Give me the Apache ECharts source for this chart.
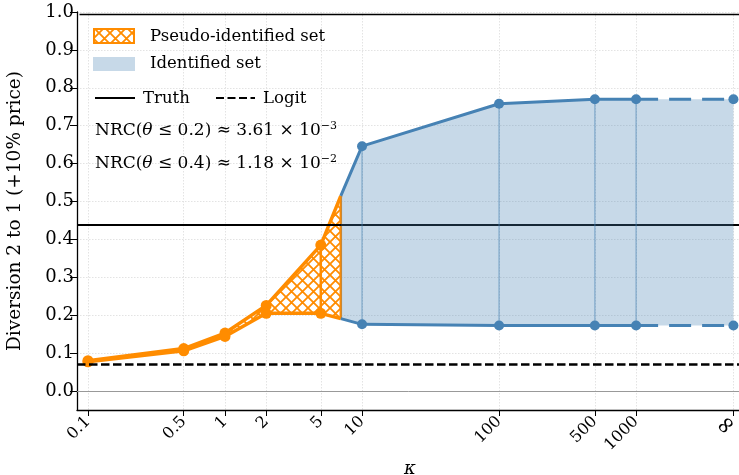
<!DOCTYPE html>
<html>
<head>
<meta charset="utf-8">
<script src="https://cdn.jsdelivr.net/npm/echarts@6/dist/echarts.min.js"></script>
<style>
  html, body { margin: 0; padding: 0; background: #fff; }
  #chart { width: 739px; height: 475px; }
</style>
</head>
<body>
<div id="chart"></div>
<script>
// kappa ticks; the infinity tick is drawn at about 10^3.71
const kappaLabels = ['0.1', '0.5', '1', '2', '5', '10', '100', '500', '1000', '\u221e'];
const kappaPos = [0.1, 0.5, 1, 2, 5, 10, 100, 500, 1000, 5130];
const yTicks = [0, 0.1, 0.2, 0.3, 0.4, 0.5, 0.6, 0.7, 0.8, 0.9, 1.0];

// pseudo-identified set (orange)
const pseudoKappa = [0.1, 0.5, 1, 2, 5, 7];
const pseudoUpper = [0.080, 0.112, 0.153, 0.226, 0.385, 0.515];
const pseudoLower = [0.077, 0.106, 0.144, 0.205, 0.205, 0.191];

// identified set (blue)
const idKappa = [7, 10, 100, 500, 1000, 5130];
const idUpper = [0.515, 0.646, 0.758, 0.770, 0.770, 0.770];
const idLower = [0.191, 0.176, 0.173, 0.173, 0.173, 0.173];

const truth = 0.439;
const logit = 0.075;

const ORANGE = '#ff8c00';
const BLUE = '#4682b4';
const FONT = 'DejaVu Serif';

const lx = k => Math.log10(k);

// crosshatch pattern for the pseudo-identified set
function hatch() {
    const s = 11;
    const c = document.createElement('canvas');
    c.width = s; c.height = s;
    const g = c.getContext('2d');
    g.strokeStyle = ORANGE;
    g.lineWidth = 1.8;
    g.beginPath();
    g.moveTo(-1, -1); g.lineTo(s + 1, s + 1);
    g.moveTo(-1, s + 1); g.lineTo(s + 1, -1);
    g.stroke();
    return c;
}
const hatchPattern = { image: hatch(), repeat: 'repeat' };

function band(kap, lo, hi, fill) {
    return function (params, api) {
        if (params.dataIndex !== 0) return null;
        const pts = [];
        for (let i = 0; i < kap.length; i++) pts.push(api.coord([lx(kap[i]), hi[i]]));
        for (let i = kap.length - 1; i >= 0; i--) pts.push(api.coord([lx(kap[i]), lo[i]]));
        return { type: 'polygon', shape: { points: pts }, style: { fill: fill } };
    };
}

function vlines(color, width) {
    return function (params, api) {
        const p1 = api.coord([api.value(0), api.value(1)]);
        const p2 = api.coord([api.value(0), api.value(2)]);
        return {
            type: 'line',
            shape: { x1: p1[0], y1: p1[1], x2: p2[0], y2: p2[1] },
            style: { stroke: color, lineWidth: width }
        };
    };
}

const lastNoSymbol = (kap, arr) => kap.map((k, i) => {
    const d = { value: [lx(k), arr[i]] };
    if (i === kap.length - 1) d.symbol = 'none';
    return d;
});
const n = idKappa.length;
const idSolid = arr => idKappa.slice(0, n - 1).map((k, i) => {
    const d = { value: [lx(k), arr[i]] };
    if (i === 0) d.symbol = 'none';
    return d;
});
const idDash = arr => [
    { value: [lx(idKappa[n - 2]), arr[n - 2]], symbol: 'none' },
    { value: [lx(idKappa[n - 1]), arr[n - 1]] }
];

const chart = echarts.init(document.getElementById('chart'));

const txt = (text, x, y, size) => ({
    type: 'text', x: x, y: y, z: 100,
    style: { text: text, font: size + 'px "' + FONT + '"', fill: '#000', verticalAlign: 'middle' }
});
const nrc = (text, y) => ({
    type: 'text', x: 95, y: y, z: 100,
    style: {
        text: text, font: '17px "' + FONT + '"', fill: '#000', verticalAlign: 'middle',
        rich: {
            i: { fontFamily: FONT, fontSize: 17, fontStyle: 'italic' },
            s: { fontFamily: FONT, fontSize: 11, verticalAlign: 'top', padding: [0, 0, 9, 0] }
        }
    }
});

const option = {
    animation: false,
    grid: { left: 77, right: -4, top: 12, bottom: 65, outerBoundsMode: 'none', containLabel: false },
    xAxis: {
        type: 'value',
        min: -1.08,
        max: 3.78,
        name: '\u03ba',
        nameLocation: 'middle',
        nameGap: 49,
        nameTextStyle: { fontFamily: FONT, fontStyle: 'italic', fontSize: 18, color: '#000' },
        axisLine: { show: true, onZero: false, lineStyle: { color: '#000', width: 1.3 } },
        axisTick: { show: true, length: 6, customValues: kappaPos.map(lx), lineStyle: { color: '#000', width: 1 } },
        axisLabel: {
            customValues: kappaPos.map(lx),
            rotate: 45,
            margin: 9,
            fontFamily: FONT,
            fontSize: 16,
            color: '#000',
            rich: { inf: { fontFamily: FONT, fontSize: 24 } },
            formatter: v => {
                let best = 0;
                kappaPos.forEach((k, i) => {
                    if (Math.abs(lx(k) - v) < Math.abs(lx(kappaPos[best]) - v)) best = i;
                });
                return best === kappaPos.length - 1 ? '{inf|' + kappaLabels[best] + '}' : kappaLabels[best];
            }
        },
        splitLine: { show: true, lineStyle: { color: '#dcdcdc', type: [1.5, 1.5], width: 0.8 } }
    },
    yAxis: {
        type: 'value',
        min: -0.05,
        max: 1.0,
        name: 'Diversion 2 to 1 (+10% price)',
        nameLocation: 'middle',
        nameGap: 52,
        nameTextStyle: { fontFamily: FONT, fontSize: 18.5, color: '#000' },
        axisLine: { show: true, onZero: false, lineStyle: { color: '#000', width: 1.3 } },
        axisTick: { show: true, length: 7, customValues: yTicks, lineStyle: { color: '#000', width: 1 } },
        axisLabel: {
            customValues: yTicks,
            margin: 3,
            fontFamily: FONT,
            fontSize: 18,
            color: '#000',
            formatter: v => v.toFixed(1)
        },
        splitLine: { show: true, lineStyle: { color: '#dcdcdc', type: [1.5, 1.5], width: 0.8 } }
    },
    graphic: [
        // top spine
        { type: 'line', left: 77, top: 12, shape: { x1: 0, y1: 0, x2: 662, y2: 0 }, style: { stroke: '#000', lineWidth: 1.3 }, z: 100 },
        // legend
        { type: 'rect', shape: { x: 94, y: 29, width: 40, height: 14 }, style: { fill: hatchPattern, stroke: ORANGE, lineWidth: 2 }, z: 100 },
        txt('Pseudo-identified set', 150, 37, 16.5),
        { type: 'rect', shape: { x: 93, y: 57, width: 42, height: 14 }, style: { fill: 'rgba(70,130,180,0.3)' }, z: 100 },
        txt('Identified set', 150, 64, 16.5),
        { type: 'line', shape: { x1: 95, y1: 98, x2: 135, y2: 98 }, style: { stroke: '#000', lineWidth: 2.2 }, z: 100 },
        txt('Truth', 143, 99, 16.5),
        { type: 'line', shape: { x1: 216, y1: 98, x2: 255, y2: 98 }, style: { stroke: '#000', lineWidth: 2.2, lineDash: [8, 3.5] }, z: 100 },
        txt('Logit', 263, 99, 16.5),
        nrc('NRC({i|\u03b8} \u2264 0.2) \u2248 3.61 \u00d7 10{s|\u22123}', 131),
        nrc('NRC({i|\u03b8} \u2264 0.4) \u2248 1.18 \u00d7 10{s|\u22122}', 164)
    ],
    series: [
        {
            type: 'line', data: [], z: 1,
            markLine: {
                silent: true, symbol: 'none', label: { show: false },
                data: [
                    { yAxis: 0, lineStyle: { color: '#999', width: 1, type: 'solid' } },
                    { yAxis: logit, lineStyle: { color: '#000', width: 2.5, type: [8.5, 3.5] } }
                ]
            }
        },
        {
            type: 'custom', z: 2,
            data: pseudoKappa.map((k, i) => [lx(k), pseudoLower[i], pseudoUpper[i]]),
            renderItem: band(pseudoKappa, pseudoLower, pseudoUpper, hatchPattern)
        },
        {
            type: 'custom', z: 3,
            data: pseudoKappa.map((k, i) => [lx(k), pseudoLower[i], pseudoUpper[i]]),
            renderItem: vlines(ORANGE, 2.5)
        },
        {
            type: 'line', z: 4, data: lastNoSymbol(pseudoKappa, pseudoUpper), symbol: 'circle', symbolSize: 11,
            itemStyle: { color: ORANGE }, lineStyle: { color: ORANGE, width: 3.5 }
        },
        {
            type: 'line', z: 4, data: lastNoSymbol(pseudoKappa, pseudoLower), symbol: 'circle', symbolSize: 11,
            itemStyle: { color: ORANGE }, lineStyle: { color: ORANGE, width: 3.5 }
        },
        {
            type: 'custom', z: 5,
            data: idKappa.map((k, i) => [lx(k), idLower[i], idUpper[i]]),
            renderItem: band(idKappa, idLower, idUpper, 'rgba(70,130,180,0.3)')
        },
        {
            type: 'custom', z: 6,
            data: idKappa.slice(1, n - 1).map((k, i) => [lx(k), idLower[i + 1], idUpper[i + 1]]),
            renderItem: vlines('rgba(70,130,180,0.45)', 1.5)
        },
        {
            type: 'line', z: 7, data: [],
            markLine: {
                silent: true, symbol: 'none', label: { show: false },
                data: [{ yAxis: truth, lineStyle: { color: '#000', width: 2, type: 'solid' } }]
            }
        },
        {
            type: 'line', z: 8, data: idSolid(idUpper), symbol: 'circle', symbolSize: 10,
            itemStyle: { color: BLUE }, lineStyle: { color: BLUE, width: 3 }
        },
        {
            type: 'line', z: 8, data: idSolid(idLower), symbol: 'circle', symbolSize: 10,
            itemStyle: { color: BLUE }, lineStyle: { color: BLUE, width: 3 }
        },
        {
            type: 'line', z: 8, data: idDash(idUpper), symbol: 'circle', symbolSize: 10,
            itemStyle: { color: BLUE }, lineStyle: { color: BLUE, width: 3, type: [22, 11] }
        },
        {
            type: 'line', z: 8, data: idDash(idLower), symbol: 'circle', symbolSize: 10,
            itemStyle: { color: BLUE }, lineStyle: { color: BLUE, width: 3, type: [22, 11] }
        }
    ]
};

chart.setOption(option);
</script>
</body>
</html>
